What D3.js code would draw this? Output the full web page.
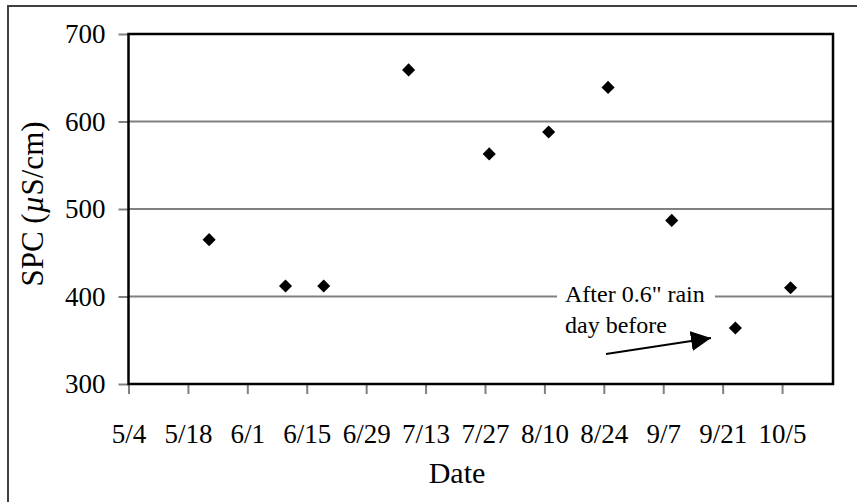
<!DOCTYPE html>
<html>
<head>
<meta charset="utf-8">
<script src="https://cdn.jsdelivr.net/npm/d3@7"></script>
<style>
  html, body { margin: 0; padding: 0; background: #fff; }
  svg { display: block; }
  text { font-family: "Liberation Serif", "Times New Roman", serif; fill: #000; }
</style>
</head>
<body>
<svg id="chart" width="857" height="502"></svg>
<script>
// ---- data ----
const sampleDates = ["2006-05-23","2006-06-10","2006-06-19","2006-07-09","2006-07-28",
                     "2006-08-11","2006-08-25","2006-09-09","2006-09-24","2006-10-07"];
const spcValues   = [465, 412, 412, 659, 563, 588, 639, 487, 364, 410];
const xTickLabels = ["5/4","5/18","6/1","6/15","6/29","7/13","7/27","8/10","8/24","9/7","9/21","10/5"];
const yTickValues = [300, 400, 500, 600, 700];
const xDomain     = ["2006-05-04", "2006-10-17"];
const yDomain     = [300, 700];
const annotationLines = ["After 0.6\" rain", "day before"];
const yTitleParts = ["SPC (", "\u00B5", "S/cm)"];
const xTitle = "Date";

const parse = d3.utcParse("%Y-%m-%d");
const svg = d3.select("#chart");

const plot = { left: 128.5, right: 833, top: 34, bottom: 384 };

// outer frame
svg.append("rect").attr("x", 8).attr("y", 6).attr("width", 860).attr("height", 510)
  .attr("fill", "#fff").attr("stroke", "#404040").attr("stroke-width", 2);

const x = d3.scaleUtc().domain(xDomain.map(parse)).range([plot.left, plot.right]);
const y = d3.scaleLinear().domain(yDomain).range([plot.bottom, plot.top]);

const xTickDates = xTickLabels.map((lab, i) => d3.utcDay.offset(parse(xDomain[0]), 14 * i));

// gridlines
svg.append("g").selectAll("line").data(yTickValues.filter(v => v > 300 && v < 700)).join("line")
  .attr("x1", plot.left).attr("x2", plot.right)
  .attr("y1", d => y(d)).attr("y2", d => y(d))
  .attr("stroke", "#808080").attr("stroke-width", 2);

// y axis
const yAxis = svg.append("g").attr("transform", `translate(${plot.left},0)`)
  .call(d3.axisLeft(y).tickValues(yTickValues).tickSize(10).tickPadding(13));
yAxis.select(".domain").remove();
yAxis.selectAll(".tick line").attr("stroke", "#808080").attr("stroke-width", 2);
yAxis.selectAll(".tick text").attr("font-size", 27).attr("font-family", "Liberation Serif").attr("fill", "#000");

// x axis
const xAxis = svg.append("g").attr("transform", `translate(0,${plot.bottom})`)
  .call(d3.axisBottom(x).tickValues(xTickDates).tickFormat((d, i) => xTickLabels[i]).tickSize(10).tickPadding(0));
xAxis.select(".domain").remove();
xAxis.selectAll(".tick line").attr("stroke", "#808080").attr("stroke-width", 2);
xAxis.selectAll(".tick text").attr("font-size", 27).attr("font-family", "Liberation Serif")
  .attr("fill", "#000").attr("dy", null).attr("y", 59);

// plot frame
svg.append("rect").attr("x", plot.left).attr("y", plot.top)
  .attr("width", plot.right - plot.left).attr("height", plot.bottom - plot.top)
  .attr("fill", "none").attr("stroke", "#000").attr("stroke-width", 2.5);

// annotation box (white background)
svg.append("rect").attr("x", 557).attr("y", 283).attr("width", 158).attr("height", 58).attr("fill", "#fff");
svg.append("g").selectAll("text").data(annotationLines).join("text")
  .attr("x", 565).attr("y", (d, i) => 302 + i * 31)
  .attr("font-size", 24).text(d => d);

// arrow
svg.append("defs").append("marker")
  .attr("id", "arrowhead").attr("viewBox", "0 0 10 10").attr("refX", 10).attr("refY", 5)
  .attr("markerUnits", "userSpaceOnUse").attr("markerWidth", 20).attr("markerHeight", 21)
  .attr("orient", "auto")
  .append("path").attr("d", "M0,0 L10,5 L0,10 Z").attr("fill", "#000");
svg.append("line").attr("x1", 606).attr("y1", 354).attr("x2", 711).attr("y2", 338)
  .attr("stroke", "#000").attr("stroke-width", 2).attr("marker-end", "url(#arrowhead)");

// points
svg.append("g").selectAll("path").data(sampleDates.map((d, i) => ({ date: parse(d), v: spcValues[i] }))).join("path")
  .attr("d", d3.symbol(d3.symbolSquare, 86)())
  .attr("transform", d => `translate(${x(d.date)},${y(d.v)}) rotate(45)`)
  .attr("fill", "#000");

// axis titles
svg.append("text").attr("x", 457).attr("y", 483).attr("text-anchor", "middle")
  .attr("font-size", 30).text(xTitle);
const yt = svg.append("text").attr("transform", "translate(43,204) rotate(-90)").attr("text-anchor", "middle")
  .attr("font-size", 31);
yt.selectAll("tspan").data(yTitleParts).join("tspan")
  .attr("font-style", (d, i) => i === 1 ? "italic" : null)
  .text(d => d);
</script>
</body>
</html>
